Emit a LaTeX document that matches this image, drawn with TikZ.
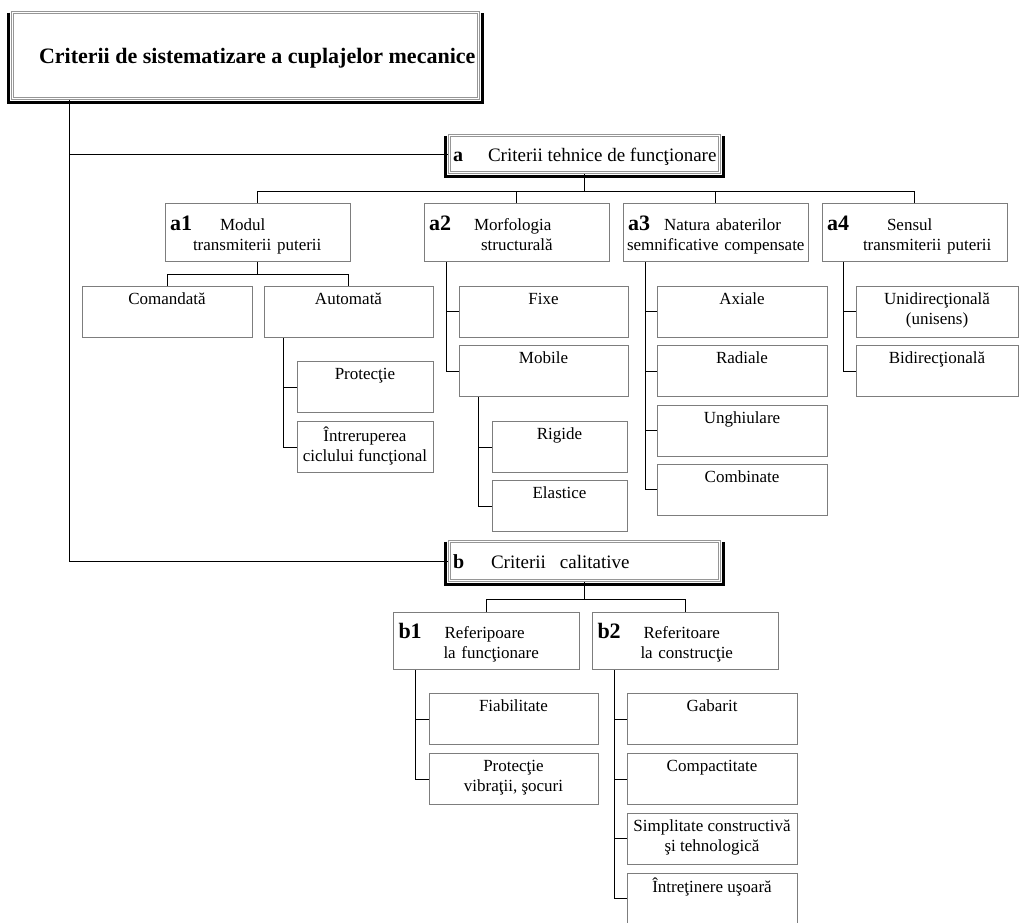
\documentclass[tikz,border=0pt]{standalone}
\usepackage{fontspec}
\setmainfont{Liberation Serif}
\usetikzlibrary{calc,backgrounds}
\definecolor{boxgray}{RGB}{125,125,125}
\definecolor{framegray}{RGB}{150,150,150}
\newcommand{\hdtag}[1]{{\fontsize{22}{20}\selectfont\bfseries #1}}
\newcommand{\frtag}[1]{{\fontsize{20}{22}\selectfont\bfseries #1}}
\tikzset{
  leaf/.style={draw=boxgray,line width=1pt,fill=white,minimum width=#1,minimum height=51pt,
    align=center,font=\fontsize{17}{20}\selectfont,
    execute at begin node=\rule{0pt}{19pt},execute at end node=\strut},
  leaf/.default=170pt,
  head/.style={draw=boxgray,line width=1pt,fill=white,minimum width=185pt,minimum height=58pt,
    text width=175pt,inner xsep=5pt,align=left,font=\fontsize{17}{20}\selectfont,
    execute at begin node=\rule{0pt}{22pt},execute at end node=\strut},
  dframe/.style={draw=framegray,double=white,double distance=1.6pt,line width=0.8pt,
    fill=white,outer sep=0pt,inner xsep=3.4pt,font=\fontsize{19}{22}\selectfont,
    text height=19pt,text depth=4pt},
  rim/.style={line width=3pt,black},
  link/.style={line width=1pt,black},
}

\begin{document}
\begin{tikzpicture}[x=1pt,y=-1pt]
  \path[use as bounding box] (0,0) rectangle (1019,922);
  \clip (0,0) rectangle (1019,922);

  % framed titles
  \node[dframe,minimum width=465.8pt,minimum height=85.8pt,inner xsep=4.4pt,
    font=\fontsize{22}{26}\selectfont\bfseries,text height=20pt] (main) at (245.5,55.5)
    {\makebox[457pt][l]{\hspace*{22pt}Criterii de sistematizare a cuplajelor mecanice}};
  \node[dframe,minimum width=269.8pt,minimum height=36.8pt] (a) at (584.5,154)
    {\makebox[263pt][l]{\makebox[35pt][l]{\frtag{a}}Criterii tehnice de funcţionare}};
  \node[dframe,minimum width=269.8pt,minimum height=38.8pt] (b) at (584.5,561)
    {\makebox[263pt][l]{\makebox[38pt][l]{\frtag{b}}Criterii\hspace{14pt}calitative}};
  \foreach \n in {main,a,b}
    \draw[rim] ($(\n.north west)+(-4.5,0)$) -- ($(\n.south west)+(-4.5,4.5)$)
      -- ($(\n.south east)+(4.5,4.5)$) -- ($(\n.north east)+(4.5,0)$);

  % group a
  \node[head] (a1) at (257.5,232) {\makebox[50pt][l]{\hdtag{a1}}Modul\\\hspace*{23pt}transmiterii puterii};
  \node[head] (a2) at (516.5,232) {\makebox[45pt][l]{\hdtag{a2}}Morfologia\\\hspace*{52pt}structurală};
  \node[head] (a3) at (715.5,232) {\makebox[36pt][l]{\hdtag{a3}}Natura abaterilor\\\hspace*{-1pt}\mbox{semnificative compensate}};
  \node[head] (a4) at (914.5,232) {\makebox[60pt][l]{\hdtag{a4}}Sensul\\\hspace*{36pt}transmiterii puterii};

  \node[leaf] (cmd) at (167,311.5) {Comandată\\};
  \node[leaf=169pt] (aut) at (348.5,311.5) {Automată\\};
  \node[leaf=136pt] (prot) at (365,387) {Protecţie\\};
  \node[leaf=136pt] (intr) at (365,447) {Întreruperea\\ciclului funcţional};

  \node[leaf=169pt] (fixe) at (543.5,311.5) {Fixe\\};
  \node[leaf=169pt] (mob) at (543.5,371) {Mobile\\};
  \node[leaf=135pt] (rig) at (559.5,447) {Rigide\\};
  \node[leaf=135pt] (elast) at (559.5,506) {Elastice\\};

  \node[leaf] (ax) at (742,311.5) {Axiale\\};
  \node[leaf] (rad) at (742,371) {Radiale\\};
  \node[leaf] (ungh) at (742,430.5) {Unghiulare\\};
  \node[leaf] (comb) at (742,489.5) {Combinate\\};

  \node[leaf=162pt] (unid) at (937,311.5) {Unidirecţională\\(unisens)};
  \node[leaf=162pt] (bid) at (937,371) {Bidirecţională\\};

  % group b
  \node[head,minimum width=186pt,minimum height=57pt] (b1) at (486,640.5) {\makebox[46pt][l]{\hdtag{b1}}Referipoare\\\hspace*{45pt}la funcţionare};
  \node[head,minimum width=186pt,minimum height=57pt] (b2) at (685,640.5) {\makebox[46pt][l]{\hdtag{b2}}Referitoare\\\hspace*{43pt}la construcţie};

  \node[leaf=169pt] (fiab) at (513.5,719) {Fiabilitate\\};
  \node[leaf=169pt] (vibr) at (513.5,779) {Protecţie\\vibraţii, şocuri};

  \node[leaf] (gab) at (712,719) {Gabarit\\};
  \node[leaf] (comp) at (712,779) {Compactitate\\};
  \node[leaf] (simpl) at (712,838.5) {Simplitate constructivă\\şi tehnologică};
  \node[leaf] (intret) at (712,898.5) {Întreţinere uşoară\\};

  \coordinate (trunk) at (69,0);
  \coordinate (abar) at (0,191);
  \coordinate (a1bar) at (0,274);
  \coordinate (bbar) at (0,599);

  \begin{scope}[on background layer,link]
    % trunk
    \draw (main.south -| trunk) |- (a.west);
    \draw (main.south -| trunk) |- (b.west);
    % a level
    \draw (a.south) -- (a.south |- abar);
    \draw (a1.north) |- (abar -| a4.north) -- (a4.north);
    \foreach \n in {a2,a3} \draw (\n.north) -- (\n.north |- abar);
    \draw (a1.south) -- (a1.south |- a1bar);
    \draw (cmd.north) |- (a1bar -| aut.north) -- (aut.north);
    \draw ($(aut.south -| prot.west)+(-13,0)$) |- (intr.west);
    \draw (prot.west) -- ++(-13,0);
    \draw ($(a2.south -| fixe.west)+(-12,0)$) |- (mob.west);
    \draw (fixe.west) -- ++(-12,0);
    \draw ($(mob.south -| rig.west)+(-13,0)$) |- (elast.west);
    \draw (rig.west) -- ++(-13,0);
    \draw ($(a3.south -| ax.west)+(-11,0)$) |- (comb.west);
    \foreach \n in {ax,rad,ungh} \draw (\n.west) -- ++(-11,0);
    \draw ($(a4.south -| unid.west)+(-12,0)$) |- (bid.west);
    \draw (unid.west) -- ++(-12,0);
    % b level
    \draw (b.south) -- (b.south |- bbar);
    \draw (b1.north) |- (bbar -| b2.north) -- (b2.north);
    \draw ($(b1.south -| fiab.west)+(-13,0)$) |- (vibr.west);
    \draw (fiab.west) -- ++(-13,0);
    \draw ($(b2.south -| gab.west)+(-12,0)$) |- (intret.west);
    \foreach \n in {gab,comp,simpl} \draw (\n.west) -- ++(-12,0);
  \end{scope}
\end{tikzpicture}
\end{document}
